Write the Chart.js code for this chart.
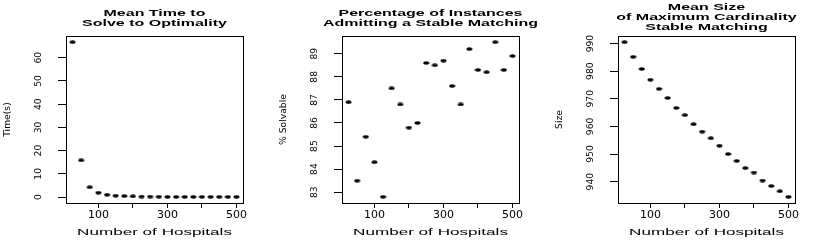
<!DOCTYPE html>
<html>
<head>
<meta charset="utf-8">
<script src="https://cdn.jsdelivr.net/npm/chart.js@4.4.1/dist/chart.umd.min.js"></script>
<style>
  body { margin: 0; background: #fff; }
  #wrap { position: relative; width: 828px; height: 248px; overflow: hidden; }
  .panel { position: absolute; top: 0; width: 276px; height: 248px; }
  .panel canvas { position: absolute; left: 0; top: 0; }
  .main, .xlab {
    position: absolute; left: 66px; width: 177px;
    text-align: center; white-space: nowrap; color: #000;
    font-family: "Liberation Sans", Arial, sans-serif; line-height: 10px;
  }
  .main { font-weight: bold; font-size: 9.7px; transform: scaleX(1.65); }
  .xlab { top: 226.7px; font-size: 9.5px; transform: scaleX(1.8); }
</style>
</head>
<body>
<div id="wrap"></div>
<script>
// --- data ---
const hospitals = [25, 50, 75, 100, 125, 150, 175, 200, 225, 250, 275, 300, 325, 350, 375, 400, 425, 450, 475, 500];

const meanTime = [66.7, 15.8, 4.2, 1.9, 1.0, 0.6, 0.4, 0.3, 0.2, 0.2, 0.15, 0.1, 0.1, 0.1, 0.1, 0.1, 0.1, 0.1, 0.1, 0.1];
const pctSolvable = [86.9, 83.5, 85.4, 84.3, 82.8, 87.5, 86.8, 85.8, 86.0, 88.6, 88.5, 88.7, 87.6, 86.8, 89.2, 88.3, 88.2, 89.5, 88.3, 88.9];
const meanSize = [990.5, 985.2, 980.8, 976.9, 973.6, 970.3, 966.7, 964.1, 960.8, 958.1, 955.7, 953.0, 950.0, 947.5, 944.9, 943.3, 940.4, 938.4, 936.5, 934.5];

const xTicks = [100, 200, 300, 400, 500];
const xTickLabels = ['100', '', '300', '', '500'];
const timeTicks = [0, 10, 20, 30, 40, 50, 60];
const pctTicks = [83, 84, 85, 86, 87, 88, 89];
const sizeTicks = [940, 950, 960, 970, 980, 990];

const titles = [
  ['Mean Time to', 'Solve to Optimality'],
  ['Percentage of Instances', 'Admitting a Stable Matching'],
  ['Mean Size', 'of Maximum Cardinality', 'Stable Matching']
];
const yLabels = ['Time(s)', '% Solvable', 'Size'];
const xLabel = 'Number of Hospitals';

// R pads the data range by 4% on each side
function padRange(vals) {
  const lo = Math.min(...vals), hi = Math.max(...vals);
  const d = (hi - lo) * 0.04;
  return [lo - d, hi + d];
}

// the dots in the picture are slightly wide, so use a small ellipse image
function makeDot() {
  const c = document.createElement('canvas');
  c.width = 7; c.height = 4;
  const g = c.getContext('2d');
  g.fillStyle = '#000';
  g.beginPath();
  g.ellipse(3.5, 2, 3, 1.7, 0, 0, Math.PI * 2);
  g.fill();
  return c;
}
const dot = makeDot();

const boxPlugin = {
  id: 'box',
  afterDraw(chart) {
    const { ctx, chartArea: a } = chart;
    ctx.save();
    ctx.strokeStyle = '#000';
    ctx.lineWidth = 1;
    ctx.strokeRect(a.left + 0.5, a.top + 0.5, a.right - a.left, a.bottom - a.top);
    ctx.restore();
  }
};

const tickFont = { family: 'DejaVu Sans', size: 11 };
const yFont = { family: 'DejaVu Sans', size: 9.2 };

function makePanel(i, values, yTicks, tickPad) {
  const panel = document.createElement('div');
  panel.className = 'panel';
  panel.style.left = (i * 276) + 'px';
  panel.innerHTML = '<canvas width="276" height="248"></canvas>';

  const main = document.createElement('div');
  main.className = 'main';
  main.style.top = (titles[i].length === 3 ? 2 : 8.3) + 'px';
  main.innerHTML = titles[i].join('<br>');
  panel.appendChild(main);

  const xl = document.createElement('div');
  xl.className = 'xlab';
  xl.textContent = xLabel;
  panel.appendChild(xl);

  document.querySelector('#wrap').appendChild(panel);

  const [xMin, xMax] = padRange(hospitals);
  const [yMin, yMax] = padRange(values);

  new Chart(panel.querySelector('canvas'), {
    type: 'scatter',
    data: {
      datasets: [{
        data: hospitals.map((h, k) => ({ x: h, y: values[k] })),
        pointStyle: dot,
        pointRadius: 3,
        backgroundColor: '#000',
        borderColor: '#000'
      }]
    },
    options: {
      responsive: false,
      animation: false,
      events: [],
      layout: { padding: { top: 36, right: 33, left: 0, bottom: 0 } },
      plugins: { legend: { display: false }, tooltip: { enabled: false } },
      scales: {
        x: {
          type: 'linear', min: xMin, max: xMax,
          afterBuildTicks: ax => { ax.ticks = xTicks.map(v => ({ value: v })); },
          afterFit: ax => { ax.height = 45; },
          grid: { drawOnChartArea: false, tickLength: 5, tickColor: '#000', color: '#000' },
          border: { display: false },
          ticks: {
            font: tickFont, color: '#000', padding: 1, maxRotation: 0, autoSkip: false,
            callback: (v, k) => xTickLabels[k]
          }
        },
        y: {
          type: 'linear', min: yMin, max: yMax,
          afterBuildTicks: ax => { ax.ticks = yTicks.map(v => ({ value: v })); },
          afterFit: ax => { ax.width = 66; },
          grid: { drawOnChartArea: false, tickLength: 8, tickColor: '#000', color: '#000' },
          border: { display: false },
          ticks: {
            font: yFont, color: '#000', minRotation: 90, maxRotation: 90,
            crossAlign: 'center', padding: tickPad, autoSkip: false
          },
          title: {
            display: true, text: yLabels[i], font: yFont, color: '#000',
            padding: { top: 2, bottom: 0 }
          }
        }
      }
    },
    plugins: [boxPlugin]
  });
}

makePanel(0, meanTime, timeTicks, 13.5);
makePanel(1, pctSolvable, pctTicks, 13.5);
makePanel(2, meanSize, sizeTicks, 10.5);
</script>
</body>
</html>
